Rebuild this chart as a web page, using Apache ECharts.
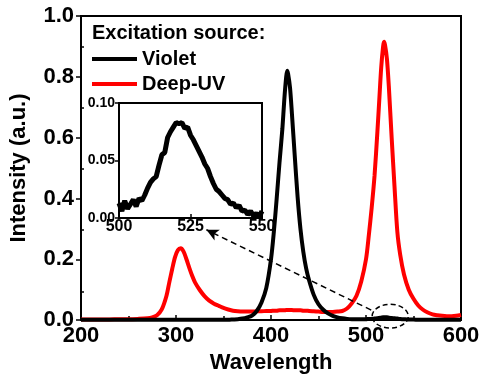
<!DOCTYPE html>
<html>
<head>
<meta charset="utf-8">
<script src="https://cdn.jsdelivr.net/npm/echarts@6/dist/echarts.min.js"></script>
<style>
html,body{margin:0;padding:0;background:#fff;}
#chart{width:486px;height:379px;}
</style>
</head>
<body>
<div id="chart"></div>
<script>
// ---- data ----
const wavelength = [200,210,220,230,240,250,260,270,275,280,285,290,293,296,299,302,305,308,311,314,317,320,325,330,335,340,345,350,355,360,365,370,375,380,385,390,395,400,403,406,409,412,414,416,417,418,420,422,425,428,431,434,437,440,445,450,455,460,465,470,475,480,485,490,495,500,503,506,509,512,514,516,518,519,520,522,524,527,530,533,536,540,545,550,555,560,565,570,575,580,585,590,595,600];
const deepUV = [0.002,0.002,0.002,0.002,0.003,0.003,0.004,0.006,0.009,0.016,0.035,0.080,0.125,0.168,0.207,0.230,0.236,0.225,0.200,0.172,0.146,0.124,0.099,0.079,0.064,0.054,0.047,0.040,0.035,0.031,0.029,0.028,0.028,0.028,0.029,0.029,0.030,0.030,0.031,0.031,0.032,0.032,0.032,0.033,0.033,0.033,0.033,0.033,0.032,0.032,0.032,0.031,0.031,0.030,0.029,0.028,0.027,0.027,0.027,0.028,0.030,0.038,0.055,0.080,0.127,0.200,0.280,0.370,0.475,0.620,0.725,0.830,0.900,0.915,0.905,0.860,0.770,0.600,0.440,0.290,0.215,0.150,0.100,0.070,0.048,0.034,0.025,0.019,0.016,0.014,0.013,0.013,0.014,0.017];
const violet = [0.001,0.001,0.001,0.001,0.001,0.001,0.001,0.001,0.001,0.001,0.001,0.001,0.001,0.001,0.001,0.001,0.001,0.001,0.001,0.001,0.001,0.001,0.001,0.001,0.001,0.001,0.001,0.001,0.001,0.002,0.003,0.005,0.009,0.015,0.030,0.058,0.105,0.200,0.290,0.400,0.520,0.630,0.725,0.800,0.820,0.810,0.765,0.680,0.540,0.405,0.300,0.225,0.170,0.132,0.083,0.052,0.034,0.022,0.014,0.009,0.006,0.004,0.003,0.003,0.003,0.003,0.004,0.004,0.005,0.006,0.007,0.008,0.009,0.009,0.009,0.009,0.008,0.007,0.006,0.005,0.004,0.003,0.002,0.002,0.001,0.001,0.001,0.001,0.001,0.001,0.001,0.001,0.001,0.001];
const insetWavelength = [500,501,502,503,504,505,506,507,508,509,510,511,512,513,514,515,516,517,518,519,520,521,522,523,524,525,526,527,528,529,530,531,532,533,534,535,536,537,538,539,540,541,542,543,544,545,546,547,548,549,550];
const insetViolet = [0.013,0.006,0.015,0.008,0.012,0.016,0.010,0.017,0.015,0.020,0.026,0.031,0.034,0.036,0.046,0.055,0.057,0.070,0.075,0.079,0.083,0.082,0.083,0.078,0.079,0.072,0.068,0.063,0.058,0.053,0.047,0.043,0.036,0.030,0.025,0.023,0.020,0.017,0.016,0.012,0.013,0.009,0.011,0.006,0.007,0.003,0.006,0.002,0.004,0.001,0.006];
const xTicks = {min:200, max:600, interval:100};
const yTicks = {min:0, max:1, interval:0.2};
const insetXTicks = {min:500, max:550, interval:25};
const insetYTicks = {min:0, max:0.1, interval:0.05};
const seriesNames = ['Violet','Deep-UV'];
const legendTitle = 'Excitation source:';
const arrowFrom = [505.5, 0.033];
const arrowTo = [332, 0.297];
const circleCenter = [525.5, 0.013];
const circleRadius = [19, 0.039];

const FONT = '"Liberation Sans", Arial, sans-serif';
const pair = (xs, ys) => xs.map((x, i) => [x, ys[i]]);

const chart = echarts.init(document.getElementById('chart'), null, {renderer:'canvas'});

const option = {
  animation: false,
  backgroundColor: '#fff',
  title: {
    text: legendTitle, left: 92, top: 23, padding: 0,
    textStyle: {fontFamily: FONT, fontWeight: 'bold', fontSize: 20, color: '#000'}
  },
  legend: {
    data: [{name: seriesNames[0], icon: 'rect'}, {name: seriesNames[1], icon: 'rect'}],
    orient: 'vertical', left: 92, top: 49, padding: 0, itemWidth: 45, itemHeight: 4, itemGap: 5,
    textStyle: {fontFamily: FONT, fontWeight: 'bold', fontSize: 20, color: '#000'}
  },
  grid: [
    {left: 80, right: 25, top: 16, bottom: 57, show: true, borderColor: '#000', borderWidth: 2, backgroundColor: 'transparent'},
    {left: 80, right: 25, top: 46.6, bottom: 87.6, show: false},
    {left: 119, top: 103, width: 143, height: 115, show: true, borderColor: '#000', borderWidth: 2, backgroundColor: '#fff'}
  ],
  xAxis: [
    {type: 'value', gridIndex: 0, min: xTicks.min, max: xTicks.max, interval: xTicks.interval,
     name: 'Wavelength', nameLocation: 'middle', nameGap: 30,
     nameTextStyle: {fontFamily: FONT, fontWeight: 'bold', fontSize: 22, color: '#000'},
     axisLine: {lineStyle: {color: '#000', width: 2}},
     axisTick: {inside: true, length: 5, lineStyle: {color: '#000', width: 1.5}},
     minorTick: {show: true, splitNumber: 2, length: 4, lineStyle: {color: '#000', width: 1.5}},
     splitLine: {show: false},
     axisLabel: {fontFamily: FONT, fontWeight: 'bold', fontSize: 22, color: '#000', margin: 5}},
    {type: 'value', gridIndex: 1, min: xTicks.min, max: xTicks.max, show: false},
    {type: 'value', gridIndex: 2, min: insetXTicks.min, max: insetXTicks.max, interval: insetXTicks.interval,
     axisLine: {lineStyle: {color: '#000', width: 2}},
     axisTick: {inside: true, length: 4, lineStyle: {color: '#000', width: 1.5}},
     splitLine: {show: false},
     axisLabel: {fontFamily: FONT, fontWeight: 'bold', fontSize: 16, color: '#000', margin: 1}}
  ],
  yAxis: [
    {type: 'value', gridIndex: 0, min: yTicks.min, max: yTicks.max, interval: yTicks.interval,
     name: 'Intensity (a.u.)', nameLocation: 'middle', nameGap: 51,
     nameTextStyle: {fontFamily: FONT, fontWeight: 'bold', fontSize: 22, color: '#000'},
     axisLine: {show: true, lineStyle: {color: '#000', width: 2}},
     axisTick: {show: true, inside: false, length: 5, lineStyle: {color: '#000', width: 1.5}},
     splitLine: {show: false},
     axisLabel: {fontFamily: FONT, fontWeight: 'bold', fontSize: 22, color: '#000', margin: 7,
                 formatter: v => v.toFixed(1)}},
    {type: 'value', gridIndex: 1, min: 0.1, max: 0.9, interval: 0.2,
     axisLine: {show: false}, splitLine: {show: false}, axisLabel: {show: false},
     axisTick: {show: true, inside: true, length: 4, lineStyle: {color: '#000', width: 1.5}}},
    {type: 'value', gridIndex: 2, min: insetYTicks.min, max: insetYTicks.max, interval: insetYTicks.interval,
     axisLine: {show: true, lineStyle: {color: '#000', width: 2}},
     axisTick: {show: true, inside: false, length: 4, lineStyle: {color: '#000', width: 1.5}},
     splitLine: {show: false},
     axisLabel: {fontFamily: FONT, fontWeight: 'bold', fontSize: 14, color: '#000', margin: 4,
                 formatter: v => v.toFixed(2)}}
  ],
  series: [
    {name: seriesNames[1], type: 'line', xAxisIndex: 0, yAxisIndex: 0, data: pair(wavelength, deepUV),
     showSymbol: false, smooth: 0.3, lineStyle: {color: '#ff0000', width: 4}, itemStyle: {color: '#ff0000'}, z: 2},
    {name: seriesNames[0], type: 'line', xAxisIndex: 0, yAxisIndex: 0, data: pair(wavelength, violet),
     showSymbol: false, smooth: 0.3, lineStyle: {color: '#000', width: 4}, itemStyle: {color: '#000'}, z: 3,
     markLine: {silent: true, symbol: ['none', 'arrow'], symbolSize: [9, 12], label: {show: false},
       lineStyle: {color: '#000', width: 1.5, type: [6, 4]},
       data: [[{coord: arrowFrom}, {coord: arrowTo}]]}},
    {name: 'inset', type: 'line', xAxisIndex: 2, yAxisIndex: 2, data: pair(insetWavelength, insetViolet),
     showSymbol: false, lineStyle: {color: '#000', width: 5}, itemStyle: {color: '#000'}, z: 5}
  ]
};
chart.setOption(option);

const c = chart.convertToPixel({gridIndex: 0}, circleCenter);
const e = chart.convertToPixel({gridIndex: 0}, [circleCenter[0] + circleRadius[0], circleCenter[1] + circleRadius[1]]);
chart.setOption({
  graphic: [{
    type: 'ellipse', z: 10,
    shape: {cx: c[0], cy: c[1], rx: Math.abs(e[0] - c[0]), ry: Math.abs(e[1] - c[1])},
    style: {fill: 'none', stroke: '#000', lineWidth: 1.5, lineDash: [5, 3]}
  }]
});
</script>
</body>
</html>
